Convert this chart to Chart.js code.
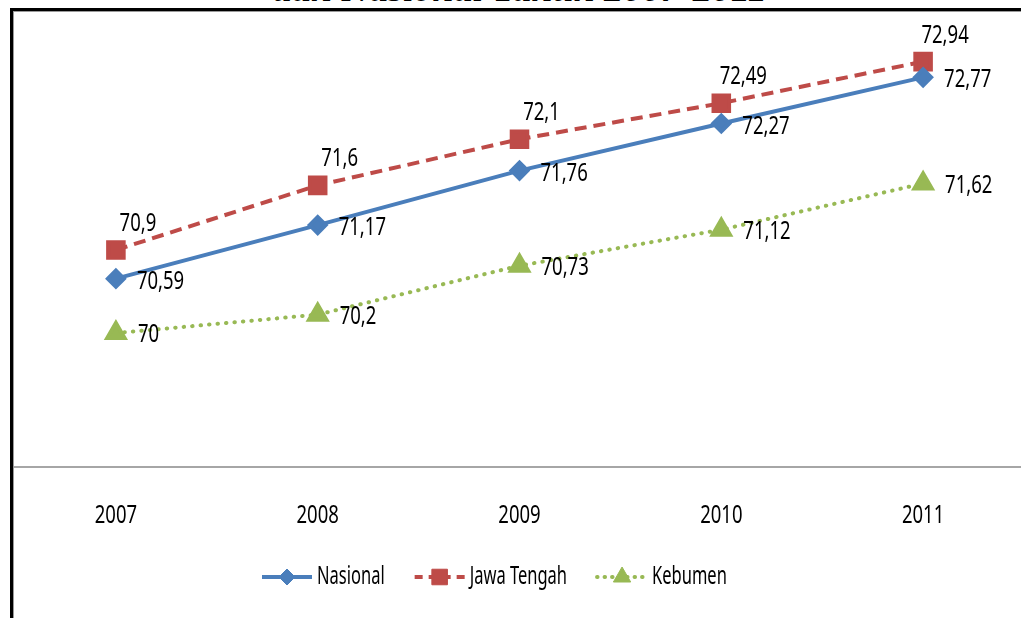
<!DOCTYPE html>
<html>
<head>
<meta charset="utf-8">
<script src="https://cdn.jsdelivr.net/npm/chart.js@4.4.0/dist/chart.umd.min.js"></script>
<style>
html,body{margin:0;padding:0;background:#fff;overflow:hidden;width:1021px;height:618px;}
#wrap{position:relative;width:1021px;height:618px;overflow:hidden;}
#title{position:absolute;left:0;width:1040px;text-align:center;top:-31px;font:italic bold 38px "Liberation Serif",serif;line-height:38px;white-space:nowrap;color:#000;}
#cv{position:absolute;left:0;top:0;}
.f{position:absolute;}
</style>
</head>
<body>
<div id="wrap">
  <div id="title">dan Nasional Tahun 2007-2011</div>
  <canvas id="cv" width="1040" height="618"></canvas>
  <div class="f" style="left:10px;top:8px;width:1011px;height:3px;background:#000"></div>
  <div class="f" style="left:13px;top:11px;width:1008px;height:1px;background:#9a9a9a"></div>
  <div class="f" style="left:10px;top:8px;width:3px;height:610px;background:#000"></div>
  <div class="f" style="left:13px;top:11px;width:1px;height:607px;background:#9a9a9a"></div>
</div>
<script>
const categories = ['2007', '2008', '2009', '2010', '2011'];
const seriesNames = ['Nasional', 'Jawa Tengah', 'Kebumen'];
const nasional = [70.59, 71.17, 71.76, 72.27, 72.77];
const jawaTengah = [70.9, 71.6, 72.1, 72.49, 72.94];
const kebumen = [70, 70.2, 70.73, 71.12, 71.62];

const FONT = '"Noto Sans","Open Sans",sans-serif';

// draw text horizontally condensed (Calibri-like narrow look)
function narrowText(ctx, txt, x, y, align, sx) {
  const w = ctx.measureText(txt).width * sx;
  let left = x;
  if (align === 'center') left = x - w / 2;
  else if (align === 'right') left = x - w;
  ctx.save();
  ctx.translate(left, y);
  ctx.scale(sx, 1);
  ctx.textAlign = 'left';
  ctx.fillText(txt, 0, 0);
  ctx.restore();
  return w;
}

const labelOffsets = [
  {dx: 21, dy: 3, align: 'left'},
  {dx: 22, dy: -26, align: 'center'},
  {dx: 22, dy: 2, align: 'left'}
];

const textPlugin = {
  id: 'texts',
  afterDatasetsDraw(chart) {
    const ctx = chart.ctx;
    ctx.save();
    ctx.font = '25px ' + FONT;
    ctx.fillStyle = '#000';
    ctx.textBaseline = 'middle';
    chart.data.datasets.forEach((ds, i) => {
      const meta = chart.getDatasetMeta(i);
      const o = labelOffsets[i];
      meta.data.forEach((pt, j) => {
        const txt = String(ds.data[j]).replace('.', ',');
        narrowText(ctx, txt, pt.x + o.dx, pt.y + o.dy, o.align, 0.74);
      });
    });
    // category tick labels
    const xs = chart.scales.x;
    chart.data.labels.forEach((lab, i) => {
      narrowText(ctx, lab, xs.getPixelForTick(i), 516, 'center', 0.74);
    });
    ctx.restore();
  }
};

const legendPlugin = {
  id: 'customLegend',
  afterDraw(chart) {
    const ctx = chart.ctx;
    ctx.save();
    ctx.font = '25px ' + FONT;
    const y = 577;
    let x = 260;
    chart.data.datasets.forEach((ds, i) => {
      ctx.save();
      ctx.strokeStyle = ds.borderColor;
      ctx.lineWidth = ds.borderWidth;
      ctx.lineCap = ds.borderCapStyle || 'butt';
      ctx.setLineDash(ds.legendDash || []);
      ctx.beginPath();
      ctx.moveTo(x + 2, y);
      ctx.lineTo(x + 52, y);
      ctx.stroke();
      ctx.restore();
      ctx.save();
      ctx.fillStyle = ds.pointBackgroundColor;
      ctx.strokeStyle = ds.pointBorderColor;
      ctx.lineWidth = 1;
      Chart.helpers.drawPoint(ctx, {pointStyle: ds.pointStyle, radius: ds.pointRadius, borderWidth: 1, rotation: 0}, x + 27, y);
      ctx.restore();
      ctx.fillStyle = '#000';
      ctx.textBaseline = 'middle';
      const w = narrowText(ctx, ds.label, x + 57, y, 'left', 0.66);
      x += 57 + w + 28;
    });
    ctx.restore();
  }
};

new Chart(document.getElementById('cv'), {
  type: 'line',
  data: {
    labels: categories,
    datasets: [
      {
        label: seriesNames[0], data: nasional,
        borderColor: '#4A7EBB', backgroundColor: '#4A7EBB', borderWidth: 4,
        pointStyle: 'rectRot', pointRadius: 8, pointHoverRadius: 8,
        pointBackgroundColor: '#4A7EBB', pointBorderColor: '#4A7EBB',
        tension: 0, legendDash: []
      },
      {
        label: seriesNames[1], data: jawaTengah,
        borderColor: '#BE4B48', backgroundColor: '#BE4B48', borderWidth: 4,
        borderDash: [12, 7], legendDash: [8, 6],
        pointStyle: 'rect', pointRadius: 11, pointHoverRadius: 11,
        pointBackgroundColor: '#BE4B48', pointBorderColor: '#BE4B48',
        tension: 0
      },
      {
        label: seriesNames[2], data: kebumen,
        borderColor: '#98B954', backgroundColor: '#98B954', borderWidth: 4,
        borderDash: [0.5, 8], borderCapStyle: 'round', legendDash: [0.5, 7],
        pointStyle: 'triangle', pointRadius: 10, pointHoverRadius: 10,
        pointBackgroundColor: '#98B954', pointBorderColor: '#98B954',
        tension: 0
      }
    ]
  },
  options: {
    responsive: false,
    animation: false,
    clip: false,
    layout: {padding: {left: 14, right: 16, top: 6, bottom: 0}},
    plugins: {legend: {display: false}, tooltip: {enabled: false}, title: {display: false}},
    scales: {
      x: {
        offset: true,
        grid: {display: false, drawTicks: false},
        border: {display: true, color: '#A6A6A6', width: 2},
        ticks: {display: false},
        afterFit(scale) { scale.height = 151; }
      },
      y: {
        display: false,
        min: 68.55, max: 73.445
      }
    }
  },
  plugins: [textPlugin, legendPlugin]
});
</script>
</body>
</html>
